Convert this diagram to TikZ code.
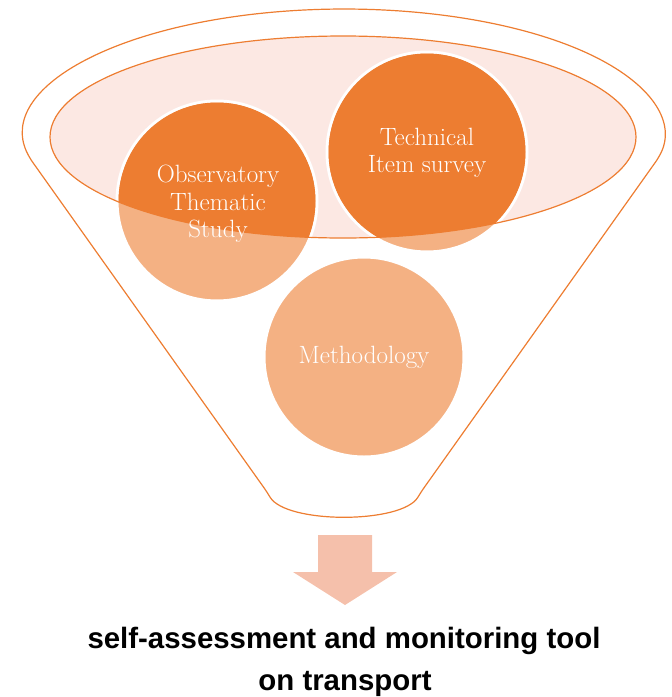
\documentclass[tikz,border=0pt]{standalone}
\usepackage{fontspec}
\newfontfamily\boldsans{Liberation Sans}
\definecolor{funnelline}{HTML}{ED7D31}
\definecolor{innerfill}{HTML}{FCE8E3}
\definecolor{darkorange}{HTML}{ED7D31}
\definecolor{lightorange}{HTML}{F4B183}
\definecolor{arrowfill}{HTML}{F5C0AB}
\tikzset{
  outline/.style={draw=funnelline, line width=1.2pt},
  circ/.style={circle, draw=white, line width=3pt, fill=lightorange, minimum size=200pt, inner sep=0pt},
  circtext/.style={text=white, align=center, font=\fontsize{25}{27.5}\selectfont, inner sep=0pt},
  bottomtext/.style={font=\boldsans\bfseries\fontsize{29.4}{34}\selectfont, anchor=base, inner sep=0pt}
}
\begin{document}
\begin{tikzpicture}[x=1pt, y=1pt, yscale=-1]
\useasboundingbox (0,0) rectangle (672,697);
% funnel outline
\draw[outline, rounded corners=6pt] (28.9,156.9) arc[start angle=170, end angle=370, x radius=320, y radius=126]
  -- (421,492) .. controls (402,524) and (286,524) .. (267,492) -- cycle;
% inner ellipse
\fill[innerfill] (343,137) ellipse[x radius=293, y radius=101];
% circles
\node[circ] (c1) at (217,201) {};
\node[circ] (c2) at (427,152) {};
\node[circ] (c3) at (364,357) {};
\begin{scope}
  \clip (343,137) ellipse[x radius=293, y radius=101];
  \fill[darkorange] (c1.center) circle[radius=98.5];
  \fill[darkorange] (c2.center) circle[radius=98.5];
  \fill[darkorange] (c3.center) circle[radius=98.5];
\end{scope}
\draw[outline] (343,137) ellipse[x radius=293, y radius=101];
% circle texts
\node[circtext] (t1) at (218,204) {Observatory\\Thematic\\Study};
\node[circtext] (t2) at (427,153) {Technical\\Item survey};
\node[circtext] (t3) at (364,357) {Methodology};
% arrow
\fill[arrowfill] (318,535) -- (372,535) -- (372,572) -- (397,572) -- (345,605) -- (293,572) -- (318,572) -- cycle;
% bottom text
\node[bottomtext] (b1) at (344,648) {self-assessment and monitoring tool};
\node[bottomtext] (b2) at (345,690) {on transport};
\end{tikzpicture}
\end{document}
